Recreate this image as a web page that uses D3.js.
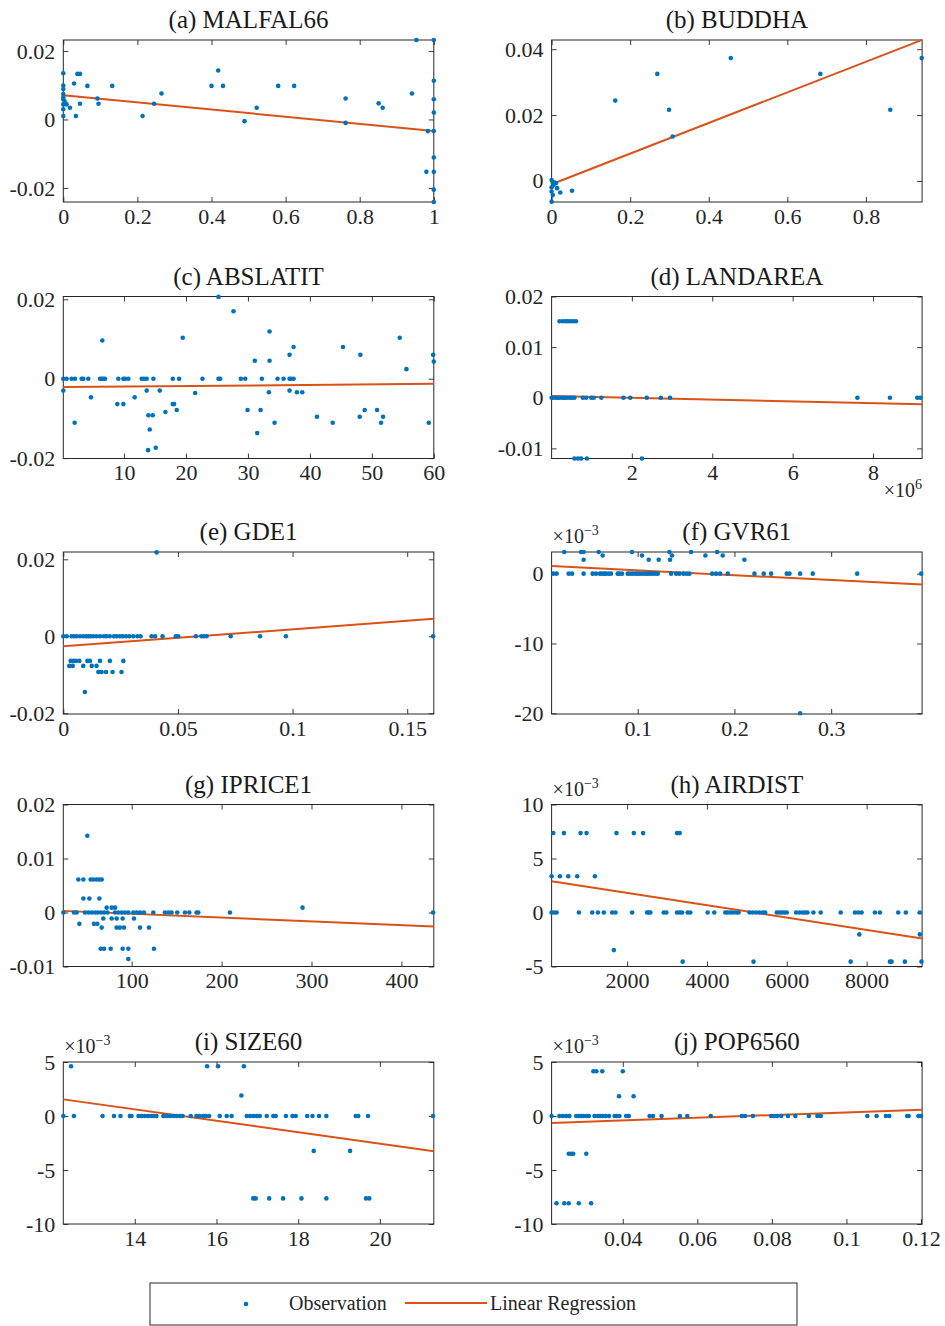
<!DOCTYPE html>
<html>
<head>
<meta charset="utf-8">
<script src="https://cdn.jsdelivr.net/npm/d3@7"></script>
<style>
  body { margin: 0; background: #fff; }
  svg text { font-family: "Liberation Serif", "DejaVu Serif", serif; fill: #262626; }
</style>
</head>
<body>
<svg id="chart" width="945" height="1326"></svg>
<script>
// ---- data ----
var panelTitles = ["(a) MALFAL66", "(b) BUDDHA", "(c) ABSLATIT", "(d) LANDAREA", "(e) GDE1",
                   "(f) GVR61", "(g) IPRICE1", "(h) AIRDIST", "(i) SIZE60", "(j) POP6560"];

var xDomains = [[0, 1], [0, 0.943], [0.2, 60], [0.003, 9.22], [0, 0.1616],
                [0.011, 0.394], [24, 436], [108, 9390], [12.25, 21.32], [0.0209, 0.1203]];
var yDomains = [[-0.0241, 0.0232], [-0.0064, 0.0428], [-0.0201, 0.0207], [-0.012, 0.02], [-0.0202, 0.0219],
                [-20.1, 3.1], [-0.01, 0.02], [-5, 10], [-10, 5], [-10, 5]];

var xTicks = [[0, 0.2, 0.4, 0.6, 0.8, 1], [0, 0.2, 0.4, 0.6, 0.8], [10, 20, 30, 40, 50, 60], [2, 4, 6, 8],
              [0, 0.05, 0.1, 0.15], [0.1, 0.2, 0.3], [100, 200, 300, 400], [2000, 4000, 6000, 8000],
              [14, 16, 18, 20], [0.04, 0.06, 0.08, 0.1, 0.12]];
var xTickLabels = [["0", "0.2", "0.4", "0.6", "0.8", "1"], ["0", "0.2", "0.4", "0.6", "0.8"],
                   ["10", "20", "30", "40", "50", "60"], ["2", "4", "6", "8"], ["0", "0.05", "0.1", "0.15"],
                   ["0.1", "0.2", "0.3"], ["100", "200", "300", "400"], ["2000", "4000", "6000", "8000"],
                   ["14", "16", "18", "20"], ["0.04", "0.06", "0.08", "0.1", "0.12"]];
var yTicks = [[-0.02, 0, 0.02], [0, 0.02, 0.04], [-0.02, 0, 0.02], [-0.01, 0, 0.01, 0.02], [-0.02, 0, 0.02],
              [-20, -10, 0], [-0.01, 0, 0.01, 0.02], [-5, 0, 5, 10], [-10, -5, 0, 5], [-10, -5, 0, 5]];
var yTickLabels = [["-0.02", "0", "0.02"], ["0", "0.02", "0.04"], ["-0.02", "0", "0.02"],
                   ["-0.01", "0", "0.01", "0.02"], ["-0.02", "0", "0.02"], ["-20", "-10", "0"],
                   ["-0.01", "0", "0.01", "0.02"], ["-5", "0", "5", "10"], ["-10", "-5", "0", "5"],
                   ["-10", "-5", "0", "5"]];

// exponent shown next to the axis (x10^n)
var yExponents = [null, null, null, null, null, "\u22123", null, "\u22123", "\u22123", "\u22123"];
var xExponents = [null, null, null, "6", null, null, null, null, null, null];

// linear regression: y = intercept + slope * x
var regSlope = [-0.0105, 0.0465, 1.33e-5, -0.000177, 0.0442, -6.97, -7.04e-6, -5.7e-4, -0.529, 12.47];
var regIntercept = [0.0071, -0.001, -0.0021, 0.00033, -0.0026, 1.177, 0.00047, 2.95, 8.02, -0.91];

var obsMalfal = [[0,0.0135],[0,0.0099],[0,0.0089],[0,0.0074],[0,0.0065],[0,0.0059],[0,0.0044],[0,0.003],[0,0.001],
  [0.004,0.0052],[0.009,0.0044],[0.018,0.0034],[0.029,0.0105],[0.034,0.001],[0.038,0.0133],[0.045,0.0133],
  [0.045,0.0046],[0.065,0.0098],[0.092,0.0061],[0.095,0.0046],[0.132,0.0098],[0.214,0.001],[0.245,0.0046],
  [0.265,0.0076],[0.4,0.0098],[0.418,0.0143],[0.431,0.0098],[0.489,-0.0005],[0.522,0.0034],[0.58,0.0098],
  [0.623,0.0098],[0.762,0.0061],[0.762,-0.001],[0.851,0.0047],[0.862,0.0034],[0.941,0.0076],[0.953,0.0232],
  [0.984,-0.0034],[0.98,-0.0153],[1,0.0232],[1,0.0113],[1,0.0059],[1,0.002],[1,-0.0034],[1,-0.0111],
  [1,-0.0153],[1,-0.0205],[1,-0.0241]];

var obsBuddha = [[0.942,0.0373],[0.456,0.0373],[0.269,0.0325],[0.684,0.0325],[0.162,0.0244],[0.299,0.0216],
  [0.862,0.0216],[0.308,0.0135],[0.052,-0.003],[0.022,-0.0035],[0,0.0003],[0.003,-0.0005],[0.005,-0.0012],
  [0,-0.0019],[0.008,-0.0005],[0.014,-0.0022],[0,-0.0032],[0.003,-0.0043],[0,-0.0063],[0.011,-0.0007]];

var obsAbslatit = [[0.2,0],[0.73,0],[1.54,0],[2.08,0],[3.16,0],[3.43,0],[4.23,0],[6.12,0],[6.39,0],[6.66,0],
  [6.93,0],[9.08,0],[9.89,0],[10.16,0],[10.7,0],[12.86,0],[13.23,0],[13.66,0],[14.74,0],[17.87,0],[18.89,0],
  [22.66,0],[25.25,0],[25.52,0],[28.86,0],[29.56,0],[32.25,0],[34.78,0],[35.75,0],[36.72,0],[36.94,0],[37.37,0],
  [0.2,-0.003],[2.03,-0.0111],[4.67,-0.0047],[6.5,0.0096],[8.92,-0.0064],[9.89,-0.0064],[11.72,-0.0047],
  [13.66,-0.003],[13.93,-0.0092],[14.63,-0.0092],[14.15,-0.0128],[13.88,-0.018],[15.12,-0.0174],[15.77,-0.003],
  [16.68,-0.0084],[17.87,-0.0064],[18.08,-0.0064],[18.51,-0.0079],[19.48,0.0103],[21.48,-0.0036],[25.25,0.0206],
  [27.67,0.017],[29.94,-0.0079],[31.12,0.0045],[31.5,-0.0137],[32.04,-0.0079],[33.49,0.0119],[33.49,0.0045],
  [33.38,-0.0034],[34.3,-0.0111],[36.72,0.006],[37.37,0.008],[36.72,-0.003],[37.91,-0.0034],[38.77,-0.0034],
  [41.14,-0.0096],[43.68,-0.0111],[45.34,0.008],[48.15,0.006],[48.04,-0.0096],[48.85,-0.0079],[50.84,-0.0079],
  [51.49,-0.0111],[51.81,-0.0096],[54.5,0.0103],[55.58,0.0024],[59.19,-0.0111],[59.89,0.006],[60,0.0043]];

// LANDAREA x in units of 10^6
var obsLandarea = [[0.2,0.0151],[0.28,0.0151],[0.35,0.0151],[0.41,0.0151],[0.48,0.0151],[0.55,0.0151],[0.61,0.0151],
  [0.57,-0.012],[0.66,-0.012],[0.74,-0.012],[0.88,-0.012],[2.25,-0.012],
  [0.005,0],[0.033,0],[0.1,0],[0.16,0],[0.2,0],[0.27,0],[0.32,0],[0.38,0],[0.45,0],[0.51,0],[0.57,0],[0.78,0],
  [0.86,0],[0.99,0],[1.05,0],[1.24,0],[1.79,0],[1.96,0],[2.37,0],[2.72,0],[2.95,0],[7.61,0],[8.42,0],[9.1,0],[9.18,0]];

var obsGde = [[0.0407,0.0218],[0,0],[0.0015,0],[0.0036,0],[0.0047,0],[0.0058,0],[0.0073,0],[0.0087,0],[0.0099,0],
  [0.0109,0],[0.0119,0],[0.0131,0],[0.0145,0],[0.016,0],[0.0177,0],[0.0189,0],[0.0203,0],[0.0221,0],[0.0233,0],
  [0.0247,0],[0.0259,0],[0.0273,0],[0.0288,0],[0.0305,0],[0.0323,0],[0.0337,0],[0.0385,0],[0.04,0],[0.0433,0],
  [0.0491,0],[0.0501,0],[0.0578,0],[0.0603,0],[0.0613,0],[0.0625,0],[0.073,0],[0.0858,0],[0.0971,0],[0.1613,0],
  [0.0032,-0.0064],[0.0044,-0.0064],[0.0055,-0.0064],[0.007,-0.0064],[0.0105,-0.0064],[0.0116,-0.0064],
  [0.016,-0.0064],[0.0203,-0.0064],[0.0262,-0.0064],[0.0026,-0.0077],[0.0041,-0.0077],[0.0087,-0.0077],
  [0.0124,-0.0077],[0.0145,-0.0077],[0.0153,-0.0093],[0.0167,-0.0093],[0.0186,-0.0093],[0.0215,-0.0093],
  [0.0254,-0.0093],[0.0094,-0.0145]];

// GVR61 y in units of 10^-3
var obsGvr = [[0.0241,3.1],[0.0414,3.1],[0.0441,3.1],[0.0597,3.1],[0.0941,3.1],[0.1328,3.1],[0.1552,3.1],[0.1821,3.1],
  [0.0638,2.6],[0.1045,2.6],[0.1355,2.6],[0.17,2.6],[0.1879,2.6],
  [0.0441,2.0],[0.1114,2.0],[0.1217,2.0],[0.1334,2.0],[0.2103,2.0],
  [0.0128,0],[0.0162,0],[0.0286,0],[0.0321,0],[0.0441,0],[0.0534,0],[0.0569,0],[0.061,0],[0.0631,0],[0.0655,0],
  [0.0672,0],[0.07,0],[0.0724,0],[0.0793,0],[0.081,0],[0.0838,0],[0.0897,0],[0.0921,0],[0.0948,0],[0.0976,0],
  [0.1,0],[0.1024,0],[0.1052,0],[0.1079,0],[0.1103,0],[0.1128,0],[0.1155,0],[0.1183,0],[0.1207,0],[0.1345,0],
  [0.1397,0],[0.1431,0],[0.1472,0],[0.1507,0],[0.1534,0],[0.1769,0],[0.181,0],[0.1852,0],[0.1931,0],[0.2207,0],
  [0.2303,0],[0.2379,0],[0.2541,0],[0.2569,0],[0.2679,0],[0.281,0],[0.3269,0],[0.3931,0],[0.2679,-20]];

var obsIprice = [[50.7,0.0142],[40.7,0.0061],[46.3,0.0061],[54.4,0.0061],[57.4,0.0061],[61.1,0.0061],[64.1,0.0061],
  [66.7,0.0061],[46.3,0.0026],[53,0.0026],[64.1,0.0026],
  [24.1,0],[35.9,0],[38.9,0],[48.1,0],[51.9,0],[55.6,0],[59.3,0],[61.9,0],[65.6,0],[69.3,0],[73,0],[81.5,0],
  [85.2,0],[88.9,0],[92.6,0],[96.3,0],[101.9,0],[105.6,0],[109.3,0],[113.7,0],[124.1,0],[137,0],[140.7,0],
  [144.4,0],[150.7,0],[159.3,0],[164.1,0],[172.2,0],[174.1,0],[209.3,0],[435.2,0],[290,0.0009],
  [72.2,0.0009],[77.8,0.0009],[81.5,0.0009],[68.5,-0.0011],[77.8,-0.0011],[83.3,-0.0011],[90,-0.0011],
  [102.6,-0.0011],[41.9,-0.0021],[58.1,-0.0021],[61.9,-0.0021],[66.7,-0.0028],[83.3,-0.0028],[87,-0.0028],
  [91.5,-0.0028],[109.3,-0.0028],[119.3,-0.0028],[65.6,-0.0067],[69.3,-0.0067],[76.7,-0.0067],[90,-0.0067],
  [96.3,-0.0067],[124.8,-0.0067],[96.3,-0.0086]];

// AIRDIST y in units of 10^-3
var obsAirdist = [[150,7.35],[417,7.35],[833,7.35],[983,7.35],[1733,7.35],[2167,7.35],[2400,7.35],[3250,7.35],[3317,7.35],
  [108,3.35],[317,3.35],[525,3.35],[750,3.35],[1192,3.35],
  [108,0],[167,0],[233,0],[792,0],[1125,0],[1267,0],[1417,0],[1625,0],[1708,0],[2125,0],[2500,0],[2542,0],
  [2583,0],[2917,0],[2983,0],[3250,0],[3317,0],[3375,0],[3517,0],[3583,0],[4017,0],[4183,0],[4458,0],[4517,0],
  [4583,0],[4650,0],[4733,0],[4792,0],[5067,0],[5150,0],[5233,0],[5317,0],[5400,0],[5458,0],[5750,0],[5817,0],
  [5875,0],[5933,0],[6000,0],[6233,0],[6317,0],[6400,0],[6458,0],[6517,0],[6667,0],[6850,0],[7350,0],[7708,0],
  [7792,0],[7875,0],[8208,0],[8333,0],[8792,0],[8983,0],[9333,0],
  [1667,-3.48],[7817,-2.03],[9333,-2.03],[3392,-4.55],[5167,-4.55],[7600,-4.55],[8583,-4.55],[8625,-4.55],
  [8958,-4.55],[9375,-4.55]];

// SIZE60 y in units of 10^-3
var obsSize = [[12.44,4.6],[15.77,4.6],[16.04,4.6],[16.67,4.6],[16.61,1.9],
  [12.25,0],[12.51,0],[13.21,0],[13.49,0],[13.65,0],[13.88,0],[13.92,0],[14.09,0],[14.17,0],[14.25,0],[14.33,0],
  [14.41,0],[14.47,0],[14.53,0],[14.7,0],[14.78,0],[14.86,0],[14.94,0],[15.02,0],[15.1,0],[15.17,0],[15.37,0],
  [15.51,0],[15.59,0],[15.68,0],[15.74,0],[15.82,0],[16.08,0],[16.25,0],[16.37,0],[16.74,0],[16.82,0],[16.9,0],
  [16.98,0],[17.06,0],[17.23,0],[17.39,0],[17.45,0],[17.7,0],[17.86,0],[17.94,0],[18.22,0],[18.35,0],[18.51,0],
  [18.69,0],[19.41,0],[19.47,0],[19.71,0],[21.3,0],
  [18.38,-3.23],[19.27,-3.23],[16.9,-7.63],[16.96,-7.63],[17.29,-7.63],[17.63,-7.63],[18.08,-7.63],
  [18.69,-7.63],[19.66,-7.63],[19.74,-7.63]];

// POP6560 y in units of 10^-3
var obsPop = [[0.0321,4.15],[0.0329,4.15],[0.0345,4.15],[0.04,4.15],[0.039,1.83],[0.0429,1.83],
  [0.0209,0],[0.023,0],[0.0239,0],[0.0248,0],[0.0257,0],[0.0275,0],[0.0282,0],[0.0288,0],[0.0294,0],[0.0302,0],
  [0.0309,0],[0.0324,0],[0.0333,0],[0.0339,0],[0.0346,0],[0.0354,0],[0.0363,0],[0.0378,0],[0.0384,0],[0.0391,0],
  [0.0409,0],[0.0416,0],[0.0472,0],[0.0481,0],[0.0504,0],[0.0553,0],[0.0573,0],[0.0636,0],[0.0719,0],[0.0728,0],
  [0.0749,0],[0.0798,0],[0.0805,0],[0.0814,0],[0.0825,0],[0.0843,0],[0.0863,0],[0.0899,0],[0.0922,0],[0.0931,0],
  [0.1056,0],[0.1081,0],[0.1106,0],[0.1115,0],[0.1163,0],[0.1167,0],[0.1193,0],[0.12,0],
  [0.0255,-3.5],[0.0261,-3.5],[0.0267,-3.5],[0.0302,-3.5],
  [0.0222,-8.08],[0.0243,-8.08],[0.0255,-8.08],[0.0282,-8.08],[0.0315,-8.08]];

var observations = [obsMalfal, obsBuddha, obsAbslatit, obsLandarea, obsGde, obsGvr, obsIprice, obsAirdist, obsSize, obsPop];

// ---- layout ----
var svg = d3.select("#chart");
var colLeft = [63.3, 551.6],
    rowTop = [40, 296.5, 552, 804.5, 1062],
    plotW = 370.5,
    plotH = 162;

var blue = "#0072BD", orange = "#D95319", ink = "#262626";
var serif = '"Liberation Serif", "DejaVu Serif", serif';

function styleAxis(sel){
    sel.select(".domain").remove();
    sel.attr("font-family", serif).attr("font-size", 22);
    sel.selectAll(".tick line").attr("stroke", ink).attr("stroke-width", 0.9);
    sel.selectAll(".tick text").attr("fill", ink)
        .style("font-family", serif).style("font-size", "22px");
}

panelTitles.forEach(function(title, i){
    var left = colLeft[i % 2], top = rowTop[Math.floor(i / 2)];
    var g = svg.append("g").attr("transform", "translate(" + left + "," + top + ")");

    var x = d3.scaleLinear().domain(xDomains[i]).range([0, plotW]);
    var y = d3.scaleLinear().domain(yDomains[i]).range([plotH, 0]);

    // axes, ticks pointing inward on all four sides
    g.append("g").attr("transform", "translate(0," + plotH + ")")
        .call(d3.axisBottom(x).tickValues(xTicks[i]).tickSizeInner(-5).tickSizeOuter(0).tickPadding(6)
            .tickFormat(function(d, k){ return xTickLabels[i][k]; }))
        .call(styleAxis);
    g.append("g")
        .call(d3.axisTop(x).tickValues(xTicks[i]).tickSizeInner(-5).tickSizeOuter(0).tickFormat(""))
        .call(styleAxis);
    g.append("g")
        .call(d3.axisLeft(y).tickValues(yTicks[i]).tickSizeInner(-5).tickSizeOuter(0).tickPadding(8)
            .tickFormat(function(d, k){ return yTickLabels[i][k]; }))
        .call(styleAxis);
    g.append("g").attr("transform", "translate(" + plotW + ",0)")
        .call(d3.axisRight(y).tickValues(yTicks[i]).tickSizeInner(-5).tickSizeOuter(0).tickFormat(""))
        .call(styleAxis);

    g.append("rect")
        .attr("width", plotW).attr("height", plotH)
        .attr("fill", "none").attr("stroke", ink).attr("stroke-width", 1);

    // regression line
    var xd = xDomains[i];
    g.append("line")
        .attr("x1", x(xd[0])).attr("y1", y(regIntercept[i] + regSlope[i] * xd[0]))
        .attr("x2", x(xd[1])).attr("y2", y(regIntercept[i] + regSlope[i] * xd[1]))
        .attr("stroke", orange).attr("stroke-width", 2);

    // observations
    g.selectAll(".obs")
        .data(observations[i])
        .enter().append("circle")
        .attr("class", "obs")
        .attr("cx", function(d){ return x(d[0]); })
        .attr("cy", function(d){ return y(d[1]); })
        .attr("r", 2.3)
        .attr("fill", blue);

    // title
    g.append("text")
        .attr("x", plotW / 2).attr("y", -12)
        .attr("text-anchor", "middle")
        .style("font-family", serif)
        .style("font-size", "25px")
        .style("fill", "#1a1a1a")
        .text(title);

    if (yExponents[i]){
        var t = g.append("text").attr("x", 1).attr("y", -9)
            .style("font-family", serif).style("font-size", "20px");
        t.append("tspan").text("\u00d710");
        t.append("tspan").attr("dy", -8).style("font-size", "14px").text(yExponents[i]);
    }
    if (xExponents[i]){
        var t2 = g.append("text").attr("x", plotW).attr("y", plotH + 38)
            .attr("text-anchor", "end").style("font-family", serif).style("font-size", "20px");
        t2.append("tspan").text("\u00d710");
        t2.append("tspan").attr("dy", -8).style("font-size", "14px").text(xExponents[i]);
    }
});

// ---- legend ----
var lg = svg.append("g");
lg.append("rect")
    .attr("x", 150).attr("y", 1283).attr("width", 647).attr("height", 42)
    .attr("fill", "#fff").attr("stroke", ink).attr("stroke-width", 1);
lg.append("circle").attr("cx", 246).attr("cy", 1304).attr("r", 2.3).attr("fill", blue);
lg.append("text").attr("x", 289).attr("y", 1310)
    .style("font-family", serif).style("font-size", "20px").text("Observation");
lg.append("line").attr("x1", 405).attr("x2", 487).attr("y1", 1303).attr("y2", 1303)
    .attr("stroke", orange).attr("stroke-width", 2);
lg.append("text").attr("x", 490).attr("y", 1310)
    .style("font-family", serif).style("font-size", "20px").text("Linear Regression");
</script>
</body>
</html>
